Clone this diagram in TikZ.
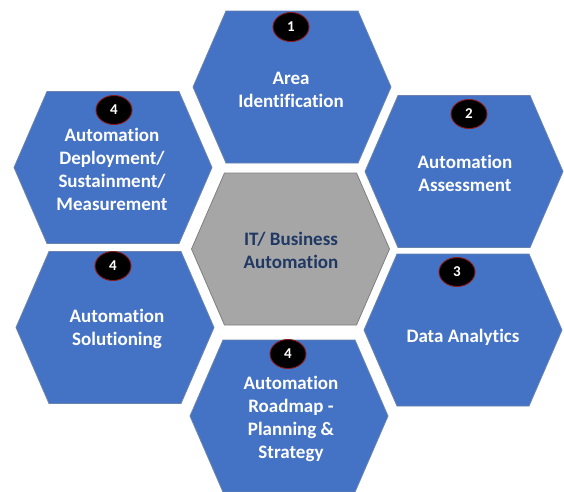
\documentclass[tikz,border=0pt]{standalone}
\usepackage{fontspec}
\setmainfont{Carlito}[Ligatures=NoCommon]
\usetikzlibrary{shapes.geometric}
\definecolor{hexblue}{HTML}{4472C4}
\definecolor{hexedge}{HTML}{6A84AE}
\definecolor{hexgray}{HTML}{A6A6A6}
\definecolor{grayedge}{HTML}{7F7F7F}
\definecolor{navytext}{HTML}{1F3864}
\definecolor{badgered}{HTML}{8B1A1A}
\tikzset{
  bluehex/.style={fill=hexblue, draw=hexedge, line width=0.8pt},
  grayhex/.style={fill=hexgray, draw=grayedge, line width=0.8pt},
  hextext/.style={text=white, font=\bfseries\fontsize{19}{23}\selectfont, align=center, inner sep=0pt},
  centertext/.style={hextext, text=navytext},
  numbadge/.style={ellipse, fill=black, draw=badgered, line width=0.9pt, minimum width=36pt, minimum height=29pt, inner sep=0pt, text=white, font=\bfseries\fontsize{15}{17}\selectfont}
}
\newcommand\hexpath[3]{\draw[#3] ({#1-99},{#2}) -- ({#1-66},{#2-76}) -- ({#1+66},{#2-76}) -- ({#1+99},{#2}) -- ({#1+66},{#2+76}) -- ({#1-66},{#2+76}) -- cycle;}
\begin{document}
\begin{tikzpicture}[x=1pt, y=-1pt]
  \clip (0,0) rectangle (564,491);
  \fill[white] (0,0) rectangle (564,491);
  % hexagons
  \hexpath{292}{87}{bluehex}
  \hexpath{113}{167.5}{bluehex}
  \hexpath{464}{171.5}{bluehex}
  \hexpath{290.5}{249}{grayhex}
  \hexpath{115}{327.5}{bluehex}
  \hexpath{463}{330}{bluehex}
  \hexpath{289}{416}{bluehex}
  % texts
  \node[hextext] (area) at (291,90) {Area\\Identification};
  \node[hextext] (deploy) at (112,169) {Automation\\Deployment/\\Sustainment/\\Measurement};
  \node[hextext] (assess) at (465,173) {Automation\\Assessment};
  \node[centertext] (itbiz) at (291,250) {IT/ Business\\Automation};
  \node[hextext] (solution) at (117,329) {Automation\\Solutioning};
  \node[hextext] (analytics) at (463,337) {Data Analytics};
  \node[hextext] (roadmap) at (291,419) {Automation\\Roadmap -\\Planning \&\\Strategy};
  % badges
  \node[numbadge] (b1) at (291,27) {1};
  \node[numbadge] (b4a) at (114,110) {4};
  \node[numbadge] (b2) at (469,114) {2};
  \node[numbadge] (b4b) at (113,266) {4};
  \node[numbadge] (b3) at (457,272) {3};
  \node[numbadge] (b4c) at (288,354) {4};
\end{tikzpicture}
\end{document}
